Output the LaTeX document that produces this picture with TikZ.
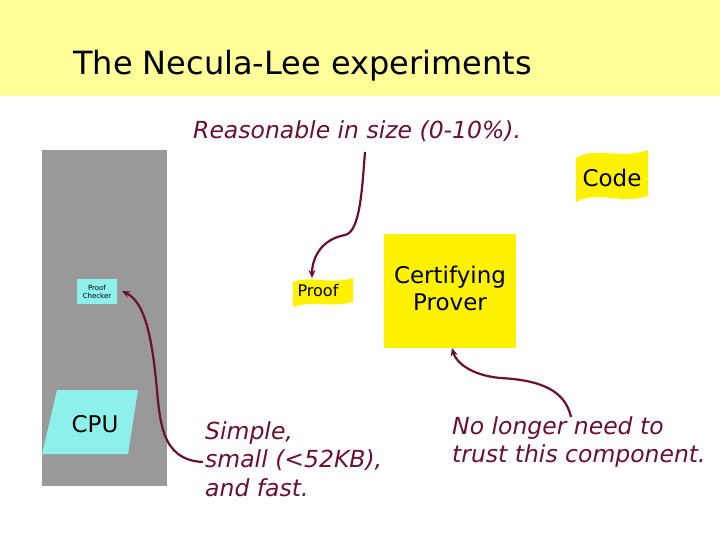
\documentclass[tikz,border=0pt]{standalone}
\usepackage{fontspec}
\setmainfont{DejaVu Sans}
\usetikzlibrary{arrows.meta}
\definecolor{band}{HTML}{FFFF99}
\definecolor{maroon}{HTML}{6B1030}
\definecolor{cyanbox}{HTML}{8EF0EA}
\definecolor{grayc}{HTML}{999999}
\tikzset{
  note/.style={text=maroon,font=\itshape\fontsize{23.5}{28.5}\selectfont,align=left,anchor=north west,inner sep=0pt},
  conn/.style={draw=maroon,line width=2.2pt,-{Stealth[length=8pt,width=7pt]}},
  label/.style={font=\fontsize{23}{27}\selectfont,align=center,inner sep=0pt}
}
\begin{document}
\begin{tikzpicture}[x=1pt,y=-1pt]
\useasboundingbox (0,0) rectangle (720,540);
\fill[white] (0,0) rectangle (720,540);
\fill[band] (0,0) rectangle (720,96);
\node[anchor=west,inner sep=0pt,font=\fontsize{32}{36}\selectfont] (title) at (73,66) {The Necula-Lee experiments};
% gray machine
\fill[grayc] (42,150) rectangle (167,486);
\node[fill=cyanbox,minimum width=40pt,minimum height=25pt,inner sep=0pt,align=center,font=\fontsize{7}{8}\selectfont] (pc) at (97,291.5) {Proof\\Checker};
\fill[cyanbox] (57,390) -- (138,390) -- (128,454) -- (42,454) -- cycle;
\node[label] (cpu) at (95,424) {CPU};
% code shape
\fill[yellow] (576,158) .. controls (596,146) and (618,160) .. (648,150) -- (648,196) .. controls (620,205) and (598,190) .. (576,202) -- cycle;
\node[label] (code) at (612,178) {Code};
% proof shape
\fill[yellow] (293,282) .. controls (312,275) and (330,285) .. (353,278) -- (353,302) .. controls (332,308) and (312,300) .. (293,307) -- cycle;
\node[font=\fontsize{16}{18}\selectfont,inner sep=0pt] (proof) at (318,291) {Proof};
% prover
\fill[yellow] (384,234) rectangle (516,348);
\node[label] (prover) at (450,288) {Certifying\\Prover};
\coordinate (pb) at (452,348);
% notes
\node[note] (reas) at (193,120) {Reasonable in size (0-10\%).};
\node[note] (simple) at (205,421) {Simple,\\small (<52KB),\\and fast.};
\node[note] (trust) at (452,416) {No longer need to\\trust this component.};
% connectors
\coordinate (r0) at (365,152);
\draw[conn] (r0) .. controls (362,190) and (360,232) .. (345,235) .. controls (318,240) and (312,262) .. (312,278);
\coordinate (s0) at (203,462);
\draw[conn] (s0) .. controls (160,460) and (160,420) .. (156,380) .. controls (150,320) and (140,300) .. (122,291);
\coordinate (t0) at (571,417);
\draw[conn] (t0) .. controls (565,390) and (540,380) .. (500,378) .. controls (470,375) and (456,362) .. (452,348);
\end{tikzpicture}
\end{document}
